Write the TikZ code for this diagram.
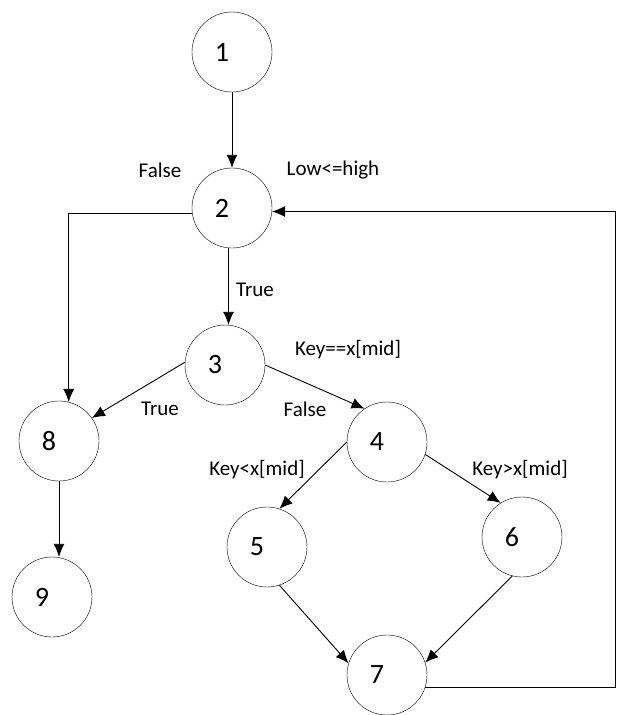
\documentclass[tikz,border=0pt]{standalone}
\usepackage{fontspec}
\setmainfont{Carlito}
\usetikzlibrary{arrows.meta,positioning}

\begin{document}
\begin{tikzpicture}[x=1pt,y=-1pt,>={Latex[length=13pt,width=11pt]},
    line width=0.9pt,
    stmtnode/.style={circle,draw=black,thin,minimum size=80pt,inner sep=0pt,
      font=\fontsize{28}{30}\selectfont,
      execute at begin node=\kern-10pt,execute at end node=\kern10pt},
    condlabel/.style={font=\fontsize{21}{24}\selectfont,inner sep=0pt}]
  \useasboundingbox (0,0) rectangle (618,715);

    \node[stmtnode] (n1) at (232,52) {1};
    \node[stmtnode] (n2) [node distance=156pt, below of=n1] {2};
    \node[stmtnode] (n3) at (225,365) {3};
    \node[stmtnode] (n4) at (387,442) {4};
    \node[stmtnode] (n5) at (267,547) {5};
    \node[stmtnode] (n6) at (522,537) {6};
    \node[stmtnode] (n7) at (387,675) {7};
    \node[stmtnode] (n8) at (59,441) {8};
    \node[stmtnode] (n9) at (52,597) {9};

    % condition labels
    \node[condlabel] (f2) at (160,170) {False};
    \node[condlabel] (c2) at (333,170) {Low<=high};
    \node[condlabel] (t2) at (255,290) {True};
    \node[condlabel] (c3) at (348,350) {Key==x[mid]};
    \node[condlabel] (t3) at (160,409) {True};
    \node[condlabel] (f3) at (305,409) {False};
    \node[condlabel] (c4l) at (257,470) {Key<x[mid]};
    \node[condlabel] (c4g) at (520,470) {Key>x[mid]};

    \coordinate (rt) at (615,0);

    \path[->]
      (n1) edge (n2)
      (n3.east) edge (n4.124)
      (n3.176) edge (n8.35)
      (n4.west) edge (n5.72)
      (n4.-18) edge (n6.122)
      (n5.-72) edge (n7.163)
      (n6.-104) edge (n7.18)
      ;

    \draw[->] (n2.-95) -- (n2.-95 |- n3.north);
    \draw[->] (n2.188) -| (n8.76);
    \draw[->] (n8.south) -- (n8.south |- n9.north);
    % loop back to the test
    \draw[->] (n7.-18) -- (n7.-18 -| rt) |- (n2.-5);
  \end{tikzpicture}
\end{document}
